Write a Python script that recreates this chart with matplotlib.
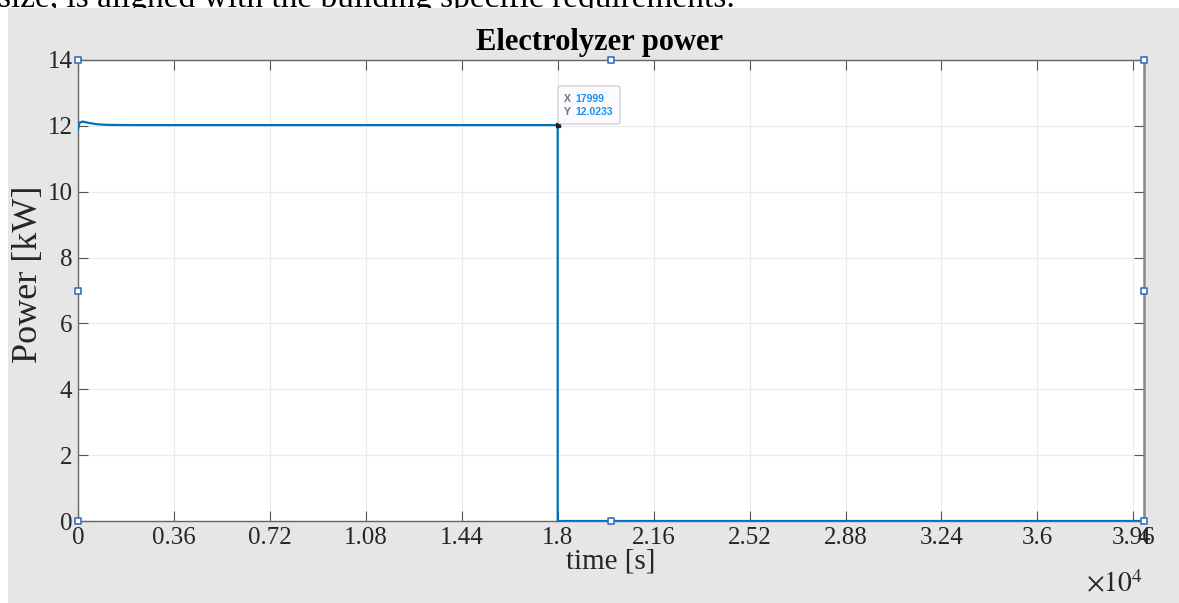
import numpy as np
import matplotlib
matplotlib.use('Agg')
import matplotlib.pyplot as plt
from matplotlib.patches import Rectangle, FancyBboxPatch

# Daten
t = [0, 60, 180, 400, 700, 1100, 1600, 3000, 17999, 18000, 40000]
power = [11.9, 12.1, 12.13, 12.09, 12.05, 12.03, 12.025, 12.023, 12.0233, 0, 0]

xticks = [0, 3600, 7200, 10800, 14400, 18000, 21600, 25200, 28800, 32400, 36000, 39600, 40000]
xticklabels = ['0', '0.36', '0.72', '1.08', '1.44', '1.8', '2.16', '2.52', '2.88', '3.24', '3.6', '3.96', '4']
yticks = [0, 2, 4, 6, 8, 10, 12, 14]

tip_x, tip_y = 17999, 12.0233

plt.rcParams['font.family'] = ['Liberation Serif', 'DejaVu Serif']
plt.rcParams['mathtext.fontset'] = 'stix'

W, H = 1179, 603
fig = plt.figure(figsize=(W / 100, H / 100), dpi=100, facecolor='white')

def fx(px):
    return px / W

def fy(py):
    return 1 - py / H

# Achsen-Position in Pixeln
ax_l, ax_r, ax_t, ax_b = 78, 1144, 60, 521
ax_w, ax_h = ax_r - ax_l, ax_b - ax_t

# Text vom Dokument oben (abgeschnitten)
fig.text(fx(-2), fy(7), 'size, is aligned with the building specific requirements.',
         fontsize=24, color='black', va='baseline', ha='left', zorder=0)
# grauer Figure-Hintergrund
fig.patches.append(Rectangle((fx(8), 0), 1 - fx(8), fy(8), transform=fig.transFigure,
                             facecolor='#e6e6e6', edgecolor='none', zorder=1))

ax = fig.add_axes([fx(ax_l), fy(ax_b), ax_w / W, ax_h / H], zorder=2)
ax.set_facecolor('white')

ax.plot(t, power, color='#0072BD', lw=1.6, zorder=3)

ax.set_xlim(0, 40000)
ax.set_ylim(0, 14)
ax.set_xticks(xticks)
ax.set_xticklabels(xticklabels)
ax.set_yticks(yticks)
ax.grid(True, color='#ebebeb', lw=0.8)
ax.set_axisbelow(True)
ax.tick_params(direction='in', length=7, width=0.8, color='#555555', top=True, right=True,
               labelsize=18, labelcolor='#262626', pad=4)
for sp in ax.spines.values():
    sp.set_color('#666666')
    sp.set_linewidth(1.0)
ax.spines['right'].set_linewidth(1.8)
ax.spines['right'].set_color('#888888')

ax.set_title('Electrolyzer power', fontsize=22, fontweight='bold', pad=7,
             x=(600 - ax_l) / ax_w)
ax.set_xlabel('time [s]', fontsize=21, color='#262626', labelpad=0)
ax.set_ylabel('Power [kW]', fontsize=26, color='#262626')
ax.yaxis.set_label_coords((45 - ax_l) / ax_w, (ax_b - 274) / ax_h)
fig.text(fx(1086), fy(592), r'$\times10^{4}$', fontsize=20, color='#262626', ha='left', va='baseline')

# Datatip
ax.plot([tip_x], [tip_y], marker='s', ms=3, color='#222222', zorder=5, clip_on=False)
fig.patches.append(FancyBboxPatch((fx(558), fy(124)), fx(620) - fx(558), fy(86) - fy(124),
                                  boxstyle='round,pad=0,rounding_size=0.003',
                                  transform=fig.transFigure, facecolor='#fbfbff',
                                  edgecolor='#c8c8c8', lw=0.8, zorder=3))
fig.text(fx(564), fy(99), 'X', fontsize=7.5, family='Liberation Sans', fontweight='bold',
         color='#707070', va='center', zorder=4)
fig.text(fx(575), fy(99), str(tip_x), fontsize=7.5, family='Liberation Sans', fontweight='bold',
         color='#1a90f0', va='center', zorder=4)
fig.text(fx(564), fy(112), 'Y', fontsize=7.5, family='Liberation Sans', fontweight='bold',
         color='#707070', va='center', zorder=4)
fig.text(fx(575), fy(112), str(tip_y), fontsize=7.5, family='Liberation Sans', fontweight='bold',
         color='#1a90f0', va='center', zorder=4)

# Auswahl-Markierungen am Achsenrahmen
hx = [0, 0.5, 1, 0, 1, 0, 0.5, 1]
hy = [1, 1, 1, 0.5, 0.5, 0, 0, 0]
ax.scatter(hx, hy, marker='s', s=22, facecolor='white', edgecolor='#3a70c0', lw=1.2,
           transform=ax.transAxes, clip_on=False, zorder=6)

fig.savefig('out.png', dpi=100, facecolor=fig.get_facecolor())
